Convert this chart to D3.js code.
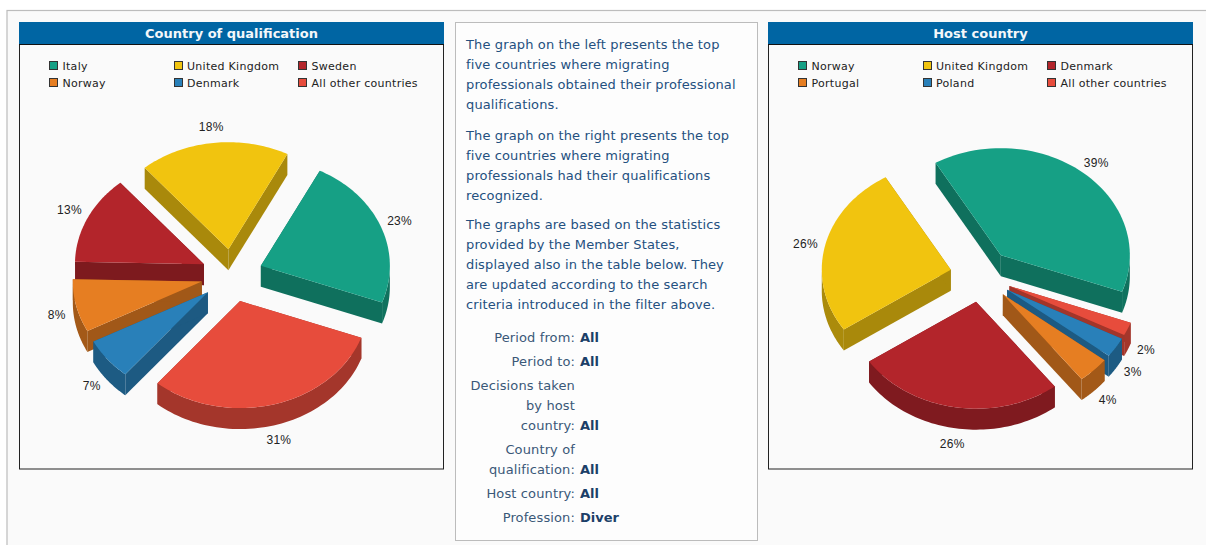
<!DOCTYPE html>
<html><head><meta charset="utf-8">
<script src="https://cdn.jsdelivr.net/npm/d3@7"></script>
<style>
html,body{margin:0;padding:0;background:#fff;overflow:hidden}
svg{display:block}
text{font-family:"DejaVu Sans",sans-serif}
</style></head><body>
<svg id="c" width="1206" height="545"></svg>
<script>
const leftTitle = "Country of qualification";
const leftCategories = ["Italy","United Kingdom","Sweden","Norway","Denmark","All other countries"];
const leftValues = [23,18.8,13.4,8,6.3,30.5];
const leftLabels = ["23%","18%","13%","8%","7%","31%"];
const rightTitle = "Host country";
const rightCategories = ["Norway","United Kingdom","Denmark","Portugal","Poland","All other countries"];
const rightValues = [39,26,26,4,3,2];
const rightLabels = ["39%","26%","26%","4%","3%","2%"];
const sliceColors = ["#16a085","#f1c40f","#b3252b","#e67e22","#2980b9","#e74c3c"];
const paragraphs = [
 ["The graph on the left presents the top","five countries where migrating","professionals obtained their professional","qualifications."],
 ["The graph on the right presents the top","five countries where migrating","professionals had their qualifications","recognized."],
 ["The graphs are based on the statistics","provided by the Member States,","displayed also in the table below. They","are updated according to the search","criteria introduced in the filter above."]
];
const filterLabels = [["Period from:"],["Period to:"],["Decisions taken","by host","country:"],["Country of","qualification:"],["Host country:"],["Profession:"]];
const filterValues = ["All","All","All","All","All","Diver"];

const svg = d3.select("#c");
const rad = d => d*Math.PI/180;

svg.append("rect").attr("width",1206).attr("height",545).attr("fill","#fff");
svg.append("rect").attr("x",7).attr("y",10.5).attr("width",1220).attr("height",560)
   .attr("fill","#fafafa").attr("stroke","#bcbcbc").attr("stroke-width",1.2);

function darken(c,k){const r=d3.rgb(c);return d3.rgb(r.r*k,r.g*k,r.b*k).formatHex();}

function drawPanel(left,width,title,cats,vals,labels){
  const g = svg.append("g");
  g.append("rect").attr("x",left+.5).attr("y",22.5).attr("width",width-1).attr("height",446.5)
    .attr("fill","#fafafa").attr("stroke","#222");
  g.append("rect").attr("x",left).attr("y",22).attr("width",width).attr("height",22).attr("fill","#0065a3");
  g.append("line").attr("x1",left).attr("x2",left+width).attr("y1",44.5).attr("y2",44.5).attr("stroke","#111");
  g.append("text").attr("x",left+width/2).attr("y",37.5).attr("text-anchor","middle")
    .attr("fill","#f4f7fa").attr("font-weight","bold").attr("font-size",13).text(title);

  const col = d3.scalePoint().domain([0,1,2]).range([left+30.5,left+279.5]);
  const row = d3.scalePoint().domain([0,1]).range([66,83]);
  const lg = g.selectAll("g.lg").data(cats).join("g");
  lg.append("rect").attr("x",(d,i)=>Math.floor(col(i%3))+.5).attr("y",(d,i)=>row(Math.floor(i/3))-4.5)
    .attr("width",8).attr("height",8).attr("fill",(d,i)=>sliceColors[i]).attr("stroke","#333");
  lg.append("text").attr("x",(d,i)=>col(i%3)+13).attr("y",(d,i)=>row(Math.floor(i/3))+4)
    .attr("font-size",11).attr("letter-spacing",.28).attr("fill","#222").text(d=>d);

  const start = rad(110);
  const arcs = d3.pie().sort(null).startAngle(start).endAngle(start-2*Math.PI)(vals);
  const cx = left+213, cy = 275.5, rx = 129, ry = 107, depth = 21, ex = 31, ey = 26.5;
  const mid = d => (d.startAngle+d.endAngle)/2;
  const items = arcs.map((d,i)=>{
    const a = Math.min(d.startAngle,d.endAngle), b = Math.max(d.startAngle,d.endAngle), m = mid(d);
    return {i,a,b,m,ax:cx+ex*Math.sin(m),ay:cy-ey*Math.cos(m),color:sliceColors[i]};
  }).sort((p,q)=>p.ay-q.ay);
  const line = d3.line();
  const rim = (it,t,dz=0)=>[it.ax+rx*Math.sin(t),it.ay-ry*Math.cos(t)+dz];
  const samples = (a,b)=>d3.range(0,61).map(k=>a+(b-a)*k/60);

  items.forEach(it=>{
    [it.a,it.b].forEach(t=>{
      g.append("path").attr("fill",darken(it.color,.7)).attr("d",line([
        [it.ax,it.ay],rim(it,t),rim(it,t,depth),[it.ax,it.ay+depth]])+"Z");
    });
    [-2*Math.PI,0,2*Math.PI].forEach(off=>{
      const a=Math.max(it.a,rad(90)+off), b=Math.min(it.b,rad(270)+off);
      if(b>a){
        const s=samples(a,b);
        g.append("path").attr("fill",darken(it.color,.71))
         .attr("d",line(s.map(t=>rim(it,t)).concat(s.slice().reverse().map(t=>rim(it,t,depth))))+"Z");
      }
    });
    g.append("path").attr("fill",it.color)
     .attr("d",line([[it.ax,it.ay]].concat(samples(it.a,it.b).map(t=>rim(it,t))))+"Z");
  });
  arcs.forEach((d,i)=>{
    const m=mid(d), s=Math.sin(m), c=Math.cos(m);
    const lift = (c>-.3 && c<.5) ? -7 : 0;
    g.append("text").attr("x",cx+180*s).attr("y",cy+10-160*c+lift+4.5)
      .attr("text-anchor","middle").attr("font-size",12).attr("letter-spacing",.3).attr("fill","#222")
      .style("font-family","'Liberation Sans',sans-serif").text(labels[i]);
  });
}
drawPanel(19,425,leftTitle,leftCategories,leftValues,leftLabels);
drawPanel(768,425,rightTitle,rightCategories,rightValues,rightLabels);

svg.append("rect").attr("x",455.5).attr("y",22.5).attr("width",302).attr("height",518)
   .attr("fill","#fdfdfd").attr("stroke","#bcbcbc");
const textColor="#24507f";
const y=[49,140,229];
paragraphs.forEach((p,pi)=>{
  svg.append("g").selectAll("text").data(p).join("text")
    .attr("x",466).attr("y",(d,i)=>y[pi]+i*20).attr("font-size",13).attr("letter-spacing",.13)
    .attr("fill",textColor).text(d=>d);
});
const filterBase=[342,366,430,474,498,522];
filterLabels.forEach((ls,k)=>{
  const n=ls.length;
  svg.append("g").selectAll("text").data(ls).join("text")
    .attr("x",575).attr("y",(d,i)=>filterBase[k]-(n-1-i)*20).attr("text-anchor","end")
    .attr("font-size",13).attr("letter-spacing",.13).attr("fill","#3a5878").text(d=>d);
  svg.append("text").attr("x",580).attr("y",filterBase[k]).attr("font-size",13)
    .attr("font-weight","bold").attr("fill","#1c3f68").text(filterValues[k]);
});
</script>
</body></html>
